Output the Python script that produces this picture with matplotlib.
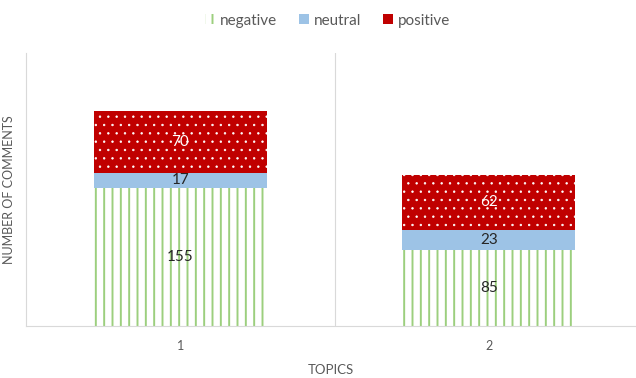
import matplotlib.pyplot as plt
from matplotlib.patches import Patch
import numpy as np

# comment counts per topic
topics = ["1", "2"]
negative = [155, 85]
neutral = [17, 23]
positive = [70, 62]

plt.rcParams['font.family'] = ['Lato', 'DejaVu Sans']

txt = '#595959'
green = '#9ccf7e'
blue = '#9dc3e6'
red = '#c00000'

fig = plt.figure(figsize=(6.36, 3.78), dpi=100)
ax = fig.add_axes([0.041, 0.138, 0.970, 0.722])

x = np.arange(len(topics)) + 1
w = 0.56
neg = np.array(negative)
neu = np.array(neutral)
pos = np.array(positive)

plt.rcParams['hatch.linewidth'] = 1.4
b1 = ax.bar(x, neg, w, facecolor='white', edgecolor=green, hatch='||',
            linewidth=0, label='negative')
b2 = ax.bar(x, neu, w, bottom=neg, color=blue, linewidth=0, label='neutral')
plt.rcParams['hatch.linewidth'] = 0.5
b3 = ax.bar(x, pos, w, bottom=neg + neu, facecolor=red, edgecolor='white',
            hatch='..', linewidth=0, label='positive')

# value labels in the middle of each segment
for i in range(len(x)):
    ax.text(x[i], neg[i] / 2, str(neg[i]), ha='center', va='center',
            fontsize=11, color='#262626')
    ax.text(x[i], neg[i] + neu[i] / 2, str(neu[i]), ha='center', va='center',
            fontsize=11, color='#262626')
    ax.text(x[i], neg[i] + neu[i] + pos[i] / 2, str(pos[i]), ha='center',
            va='center', fontsize=11, color='white')

ax.set_xlim(0.5, 2.5)
ax.set_ylim(0, 307)
ax.axvline(1.5, color='#d9d9d9', linewidth=0.8)
ax.set_xticks(x)
ax.set_xticklabels(topics)
ax.set_yticks([])
ax.tick_params(axis='x', length=0, labelsize=9, colors=txt, pad=10)
for s in ['top', 'right']:
    ax.spines[s].set_visible(False)
ax.spines['left'].set_color('#d9d9d9')
ax.spines['bottom'].set_color('#d9d9d9')

fig.text(0.521, 0.022, 'TOPICS', ha='center', va='center', fontsize=9.5,
         color=txt)
ax.set_ylabel('NUMBER OF COMMENTS', fontsize=9, color=txt, labelpad=8)

# legend swatches
plt.rcParams['hatch.linewidth'] = 1.4
handles = [
    Patch(facecolor='white', edgecolor=green, hatch='||', linewidth=0,
          label='negative'),
    Patch(facecolor=blue, linewidth=0, label='neutral'),
    Patch(facecolor=red, linewidth=0, label='positive'),
]
fig.legend(handles=handles, loc='upper center', bbox_to_anchor=(0.515, 1.0),
           ncol=3, frameon=False, fontsize=11, labelcolor=txt,
           handlelength=0.65, handleheight=0.65, handletextpad=0.35,
           columnspacing=1.4)

fig.savefig('out.png', dpi=100)
